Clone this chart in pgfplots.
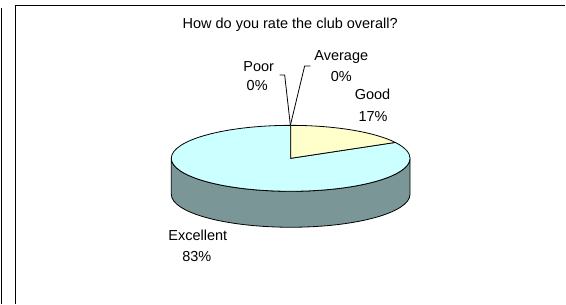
\documentclass[border=0pt]{standalone}
\usepackage{pgfplots}
\pgfplotsset{compat=1.18}
\usepackage{pgfplotstable}
\usepackage{fontspec}
\setmainfont{Liberation Sans}

\pgfplotstableread{
label value
Excellent 83
Good 17
Average 0
Poor 0
}\ratingtable

\definecolor{exctop}{HTML}{CCFFFF}
\definecolor{excside}{HTML}{7B9696}
\definecolor{goodtop}{HTML}{FFFFCC}

\begin{document}
\begin{tikzpicture}
\pgfplotstablegetelem{0}{value}\of\ratingtable \let\vExc\pgfplotsretval
\pgfplotstablegetelem{1}{value}\of\ratingtable \let\vGood\pgfplotsretval
\pgfmathsetmacro{\aGood}{90-3.6*\vGood}
\pgfmathsetmacro{\eExc}{90+3.6*\vExc}
\begin{axis}[width=566pt,height=304pt,scale only axis,
  xmin=0,xmax=566,ymin=0,ymax=304,hide axis,clip=false]
\path (axis cs:0,0) rectangle (axis cs:566,304);
% frames
\draw[line width=1.3pt] (axis cs:15.5,0) -- (axis cs:15.5,298.3) -- (axis cs:566,298.3);
\draw[line width=1.3pt] (axis cs:1.5,0) -- (axis cs:1.5,296);
% pie side
\filldraw[fill=excside, draw=black, line width=0.8pt]
  (axis cs:171.5,145.5) arc[start angle=180,end angle=360,x radius=119.5pt,y radius=33pt]
  -- ++(0,-36pt) arc[start angle=360,end angle=180,x radius=119.5pt,y radius=33pt] -- cycle;
% pie top
\filldraw[fill=exctop, draw=black, line width=0.8pt]
  (axis cs:291,145.5) -- (axis cs:291,178.5)
  arc[start angle=90,end angle=\eExc,x radius=119.5pt,y radius=33pt] -- cycle;
\filldraw[fill=goodtop, draw=black, line width=0.8pt]
  (axis cs:291,145.5) -- ++(\aGood:119.5pt and 33pt)
  arc[start angle=\aGood,end angle=90,x radius=119.5pt,y radius=33pt] -- cycle;
% leader lines
\draw[line width=0.8pt] (axis cs:280,229) -- (axis cs:285,229) -- (axis cs:290.7,178.5);
\draw[line width=0.8pt] (axis cs:310.7,238) -- (axis cs:305,238) -- (axis cs:290.7,178.5);
% labels
\begin{scope}[every node/.style={anchor=base,inner sep=0pt,font=\fontsize{14.5}{17}\selectfont}]
\node at (axis cs:290.5,275) {How do you rate the club overall?};
\node at (axis cs:259,232) {Poor};
\node at (axis cs:257.5,213) {0\%};
\node at (axis cs:341.7,243) {Average};
\node at (axis cs:341.7,222) {0\%};
\node at (axis cs:373,204) {Good};
\node at (axis cs:373.5,182.3) {17\%};
\node at (axis cs:198,63.5) {Excellent};
\node at (axis cs:197,42.3) {83\%};
\end{scope}
\end{axis}
\end{tikzpicture}
\end{document}
